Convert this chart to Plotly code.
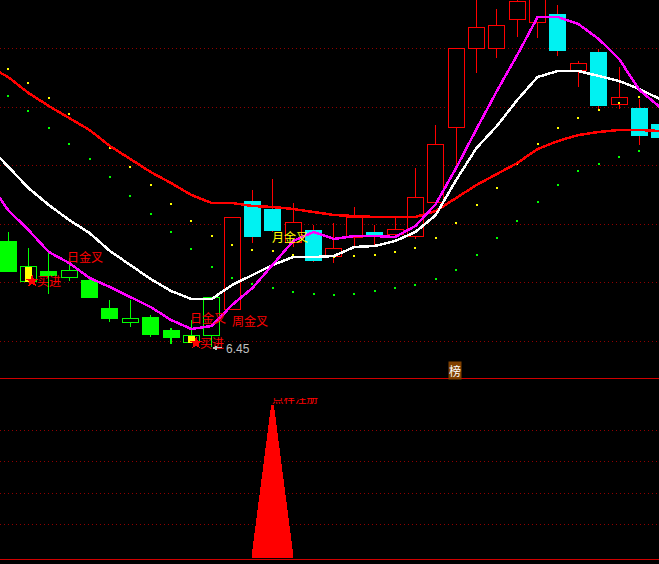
import plotly.graph_objects as go

# ---- price panel data (one entry per bar) ----
bars = list(range(33))
body_top = [8.61,8.09,7.99,8.01,7.81,7.25,7.05,7.07,6.81,6.71,7.47,9.09,9.41,9.25,8.99,8.83,8.47,9.09,8.79,8.85,9.49,10.55,12.47,12.89,12.93,13.41,13.63,13.15,12.17,12.39,11.49,11.27,10.95]
body_bot = [7.99,7.79,7.91,7.87,7.47,7.05,6.97,6.73,6.67,6.57,6.71,7.23,8.71,8.83,8.59,8.23,8.31,8.69,8.73,8.75,8.71,9.39,10.89,12.47,12.47,13.05,12.99,12.43,12.03,11.33,11.35,10.73,10.69]
high = [8.79,8.47,8.37,8.27,7.89,7.41,7.41,7.11,6.85,7.01,7.47,9.09,9.63,9.85,9.37,8.93,8.97,9.29,8.93,9.09,10.07,10.93,12.47,13.53,13.25,13.47,13.63,13.33,12.21,12.45,12.09,11.45,10.95]
low = [7.99,7.79,7.55,7.81,7.47,6.99,6.89,6.69,6.55,6.57,6.49,7.23,8.59,8.81,8.51,8.21,8.17,8.49,8.55,8.69,8.67,9.39,10.11,11.99,12.29,12.71,12.69,12.33,11.71,11.25,11.27,10.55,10.69]
# s = solid green, g = hollow green, r = hollow red, c = solid cyan
kinds = ["s","g","s","g","s","s","g","s","s","g","g","r","c","c","r","c","r","r","c","r","r","r","r","r","r","r","r","c","r","c","r","c","c"]
signal_bars = [1, 9]

line_x = list(range(-1, 33))
white_line = [10.53,10.09,9.67,9.33,9.03,8.77,8.41,8.13,7.85,7.61,7.45,7.45,7.73,7.93,8.13,8.29,8.29,8.31,8.49,8.51,8.61,8.79,9.13,9.83,10.47,10.91,11.43,11.89,12.01,12.01,11.91,11.81,11.65,11.45]
magenta_line = [9.81,9.23,8.83,8.39,8.17,7.87,7.69,7.49,7.29,7.03,6.85,6.91,7.33,7.67,8.13,8.61,8.79,8.65,8.71,8.71,8.69,8.91,9.35,10.07,10.85,11.61,12.33,13.09,13.09,12.95,12.65,12.25,11.63,11.29]
red_line = [12.11,11.89,11.57,11.31,11.07,10.83,10.51,10.25,9.99,9.77,9.53,9.37,9.37,9.31,9.29,9.25,9.19,9.13,9.11,9.09,9.09,9.09,9.21,9.47,9.73,9.95,10.17,10.45,10.61,10.73,10.79,10.83,10.83,10.81]
yellow_dots = [12.05,11.77,11.47,11.15,10.83,10.47,10.09,9.73,9.35,9.01,8.71,8.53,8.43,8.41,8.33,8.29,8.29,8.31,8.33,8.39,8.47,8.67,8.97,9.33,9.67,10.15,10.55,10.87,11.07,11.23,11.37,11.49,11.61]
green_dots = [11.51,11.21,10.87,10.55,10.25,9.89,9.51,9.15,8.79,8.45,8.09,7.87,7.75,7.67,7.59,7.55,7.53,7.55,7.61,7.67,7.73,7.85,8.03,8.33,8.67,9.01,9.39,9.73,10.01,10.15,10.29,10.41,10.55]
price_grid = [12.47,11.29,10.13,8.95,7.77,6.59]

star_x = [1.18, 9.23]
star_y = [7.81, 6.57]
labels = [
    ("日金叉", 3.78, 8.31, "#ff0000"),
    ("买进", 1.99, 7.81, "#ff0000"),
    ("日金叉", 9.80, 7.07, "#ff0000"),
    ("周金叉", 11.89, 7.01, "#ff0000"),
    ("买进", 10.00, 6.57, "#ff0000"),
    ("月金叉", 13.83, 8.71, "#ffff00"),
]
low_price_label = "6.45"
low_price_value = 6.45
low_price_bar = 10

# ---- lower panel data ----
tri_center = 12.98
tri_levels = list(range(20))
tri_widths = [1.96,1.86,1.76,1.67,1.57,1.47,1.37,1.27,1.18,1.08,0.98,0.88,0.79,0.69,0.59,0.49,0.39,0.29,0.20,0.10]
lower_grid = [15.9,11.9,7.76,3.76]
tri_text = "点样注册"

BODY = 0.785
WICK = 0.001
# kind: (body fill, body edge, wick)
STYLE = {"s": ("#00ff00", "#00ff00", "#00ff00"), "g": ("#000000", "#00ff00", "#00ff00"),
         "r": ("#000000", "#ff0000", "#ff0000"), "c": ("#00f2f2", "#00f2f2", "#ff0000")}

fig = go.Figure()

for kind, (fill, edge, wick_color) in STYLE.items():
    ids = [i for i in bars if kinds[i] == kind]
    wick = dict(color=wick_color, line=dict(color=wick_color, width=1))
    fig.add_trace(go.Bar(x=ids, base=[body_top[i] for i in ids],
                         y=[high[i] - body_top[i] for i in ids], width=WICK, marker=wick))
    fig.add_trace(go.Bar(x=ids, base=[low[i] for i in ids],
                         y=[body_bot[i] - low[i] for i in ids], width=WICK, marker=wick))
    fig.add_trace(go.Bar(x=ids, base=[body_bot[i] for i in ids],
                         y=[body_top[i] - body_bot[i] for i in ids],
                         width=BODY, marker=dict(color=fill, line=dict(color=edge, width=1))))

fig.add_trace(go.Bar(x=signal_bars, base=[body_bot[i] for i in signal_bars],
                     y=[body_top[i] - body_bot[i] for i in signal_bars],
                     width=0.34, marker=dict(color="#ffff00", line_width=0)))

fig.add_trace(go.Scatter(x=bars, y=yellow_dots, mode="markers",
                         marker=dict(symbol="square", size=2, color="#ffff00", line_width=0)))
fig.add_trace(go.Scatter(x=bars, y=green_dots, mode="markers",
                         marker=dict(symbol="square", size=2, color="#00ff00", line_width=0)))

for series, color in ((red_line, "#ff0000"), (white_line, "#ffffff"), (magenta_line, "#ff00ff")):
    fig.add_trace(go.Scatter(x=line_x, y=series, mode="lines", line=dict(color=color, width=2.5)))

fig.add_trace(go.Scatter(x=star_x, y=star_y, mode="markers",
                         marker=dict(symbol="star", size=10, color="#ff0000", line_width=0)))

# lower panel
fig.add_trace(go.Bar(orientation="h", y=tri_levels, x=tri_widths,
                     base=[tri_center - w / 2 for w in tri_widths], width=1,
                     marker=dict(color="#ff0000", line=dict(color="#ff0000", width=1)), xaxis="x2", yaxis="y2"))
fig.add_trace(go.Scatter(x=[14.09], y=[0.7], mode="text", text=[tri_text], cliponaxis=True,
                         textfont=dict(family="Noto Sans CJK SC", size=11.5, color="#ff0000"),
                         xaxis="x2", yaxis="y3"))

annotations = [dict(x=x, y=y, xref="x", yref="y", text=t, showarrow=False,
                    font=dict(family="Noto Sans CJK SC", size=12, color=c))
               for t, x, y, c in labels]
annotations.append(dict(x=low_price_bar + 0.6, y=low_price_value, xref="x", yref="y", text=low_price_label,
                        xanchor="left", showarrow=False,
                        font=dict(family="Liberation Sans", size=12, color="#c0c0c0")))
annotations.append(dict(x=low_price_bar, y=low_price_value + 0.02, xref="x", yref="y", axref="x", ayref="y",
                        ax=low_price_bar + 0.6, ay=low_price_value + 0.02, text="", showarrow=True,
                        arrowhead=2, arrowsize=1, arrowwidth=1, arrowcolor="#c0c0c0"))
annotations.append(dict(x=21.92, y=6.02, xref="x", yref="y", text="榜", showarrow=False,
                        bgcolor="#804000", borderpad=0,
                        font=dict(family="Noto Sans CJK SC", size=12, color="#ffffff")))

XR = [-0.396, 31.96]
GRID = dict(showgrid=True, gridcolor="#900000", griddash="1px,3px", gridwidth=1,
            zeroline=False, showticklabels=False, ticks="", showline=False)
fig.update_layout(
    width=659, height=564, margin=dict(l=0, r=0, t=0, b=0),
    paper_bgcolor="#000000", plot_bgcolor="#000000",
    showlegend=False, barmode="overlay", annotations=annotations,
    xaxis=dict(range=XR, visible=False, domain=[0, 1]),
    yaxis=dict(range=[5.87, 13.43], domain=[0.3298, 1], tickmode="array", tickvals=price_grid, **GRID),
    xaxis2=dict(range=XR, domain=[0, 1], anchor="y2", showline=True, mirror=True, linecolor="#d00000",
                linewidth=1, showgrid=False, zeroline=False, showticklabels=False, ticks=""),
    yaxis2=dict(range=[-0.758, 22.6], domain=[0.00887, 0.3289], anchor="x2", tickmode="array",
                tickvals=lower_grid, **GRID),
    yaxis3=dict(range=[0, 1], domain=[0.2819, 0.2943], anchor="x2", visible=False),
)

post = ("document.body.style.margin='0';document.body.style.background='#000';"
        "document.documentElement.style.overflow='hidden';"
        "var s=document.createElement('style');"
        "s.textContent='svg path{shape-rendering:crispEdges !important}';"
        "document.head.appendChild(s);")
fig.write_html("out.html", config={"displayModeBar": False}, post_script=post)
